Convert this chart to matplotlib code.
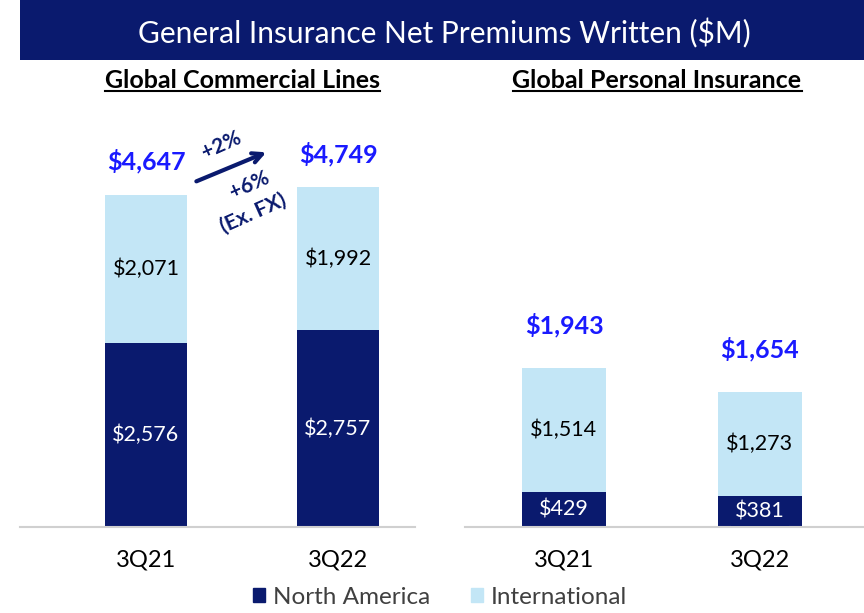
import matplotlib
matplotlib.use("Agg")
import matplotlib.pyplot as plt
from matplotlib.patches import Rectangle
from matplotlib.lines import Line2D

plt.rcParams["font.family"] = ["Lato", "DejaVu Sans"]

NAVY = "#0A1A6E"
LIGHT = "#C3E6F6"
TOTAL_BLUE = "#1A1AFF"

quarters = ["3Q21", "3Q22"]
commercial_na = [2576, 2757]
commercial_intl = [2071, 1992]
commercial_total = [4647, 4749]
personal_na = [429, 381]
personal_intl = [1514, 1273]
personal_total = [1943, 1654]

W, H = 864, 613
fig = plt.figure(figsize=(W / 100, H / 100), dpi=100)

# title banner
fig.add_artist(Rectangle((20 / W, 1 - 60 / H), 1 - 20 / W, 60 / H,
                         transform=fig.transFigure, color=NAVY, lw=0))
fig.text(444 / W, 1 - 33 / H, "General Insurance Net Premiums Written ($M)",
         color="white", fontsize=21.5, ha="center", va="center")

base = 1 - 527 / H
top = 1 - 100 / H
ax1 = fig.add_axes([20 / W, base, 395 / W, top - base])
ax2 = fig.add_axes([465 / W, base, 399 / W, top - base])


def draw_panel(ax, na, intl, total, xlim, ymax, tot_off):
    x = range(len(quarters))
    ax.bar(x, na, width=0.43, color=NAVY, zorder=2)
    ax.bar(x, intl, bottom=na, width=0.43, color=LIGHT, zorder=2)
    ax.set_xlim(*xlim)
    ax.set_ylim(0, ymax)
    for s in ["top", "left", "right"]:
        ax.spines[s].set_visible(False)
    ax.spines["bottom"].set_color("#D0D0D0")
    ax.spines["bottom"].set_linewidth(1.5)
    ax.set_yticks([])
    ax.set_xticks(list(x))
    ax.set_xticklabels(quarters, fontsize=17)
    ax.tick_params(axis="x", length=0, pad=16)
    for i in x:
        small = na[i] < 1000
        ax.text(i, na[i] / 2, f"${na[i]:,}", color="white", fontsize=15.5,
                ha="center", va="center", zorder=3,
                bbox=dict(facecolor=NAVY, edgecolor="none", pad=3) if small else None)
        ax.text(i, na[i] + intl[i] / 2, f"${intl[i]:,}", color="black",
                fontsize=15.5, ha="center", va="center", zorder=3)
        ax.annotate(f"${total[i]:,}", (i, total[i]), xytext=(0, tot_off),
                    textcoords="offset points", ha="center", va="center",
                    color=TOTAL_BLUE, fontsize=18, fontweight="bold")


draw_panel(ax1, commercial_na, commercial_intl, commercial_total,
           (-0.656, 1.401), 427 / 0.0715, 24)
draw_panel(ax2, personal_na, personal_intl, personal_total,
           (-0.505, 1.531), 427 / 0.0817, 31)

# growth arrow
ax1.annotate("", xy=(0.63, 0.88), xytext=(0.44, 0.807), xycoords="axes fraction",
             arrowprops=dict(arrowstyle="->,head_length=0.7,head_width=0.35",
                             color=NAVY, lw=3))
ax1.text(0.51, 0.895, "+2%", transform=ax1.transAxes, rotation=24, color=NAVY,
         fontsize=15, fontweight="bold", ha="center", va="center")
ax1.text(0.58, 0.80, "+6%", transform=ax1.transAxes, rotation=24, color=NAVY,
         fontsize=15, fontweight="bold", ha="center", va="center")
ax1.text(0.59, 0.735, "(Ex. FX)", transform=ax1.transAxes, rotation=24, color=NAVY,
         fontsize=15, fontweight="bold", ha="center", va="center")

# panel subtitles, underlined
subs = []
for xc, label in [(242, "Global Commercial Lines"), (657, "Global Personal Insurance")]:
    subs.append(fig.text(xc / W, 1 - 81 / H, label, fontsize=18, fontweight="bold",
                         ha="center", va="center", color="black"))
fig.canvas.draw()
renderer = fig.canvas.get_renderer()
for t in subs:
    bb = t.get_window_extent(renderer)
    y = (bb.y0 + 2) / H
    fig.add_artist(Line2D([bb.x0 / W, bb.x1 / W], [y, y], color="black", lw=1.5,
                          transform=fig.transFigure))

# legend
handles = [Rectangle((0, 0), 1, 1, color=NAVY), Rectangle((0, 0), 1, 1, color=LIGHT)]
fig.legend(handles, ["North America", "International"], loc="center",
           bbox_to_anchor=(440 / W, 1 - 597 / H), ncol=2, frameon=False,
           fontsize=17.5, handlelength=0.5, handleheight=0.5, handletextpad=0.3,
           columnspacing=1.7, labelcolor="#404040")

fig.savefig("out.png", dpi=100)
